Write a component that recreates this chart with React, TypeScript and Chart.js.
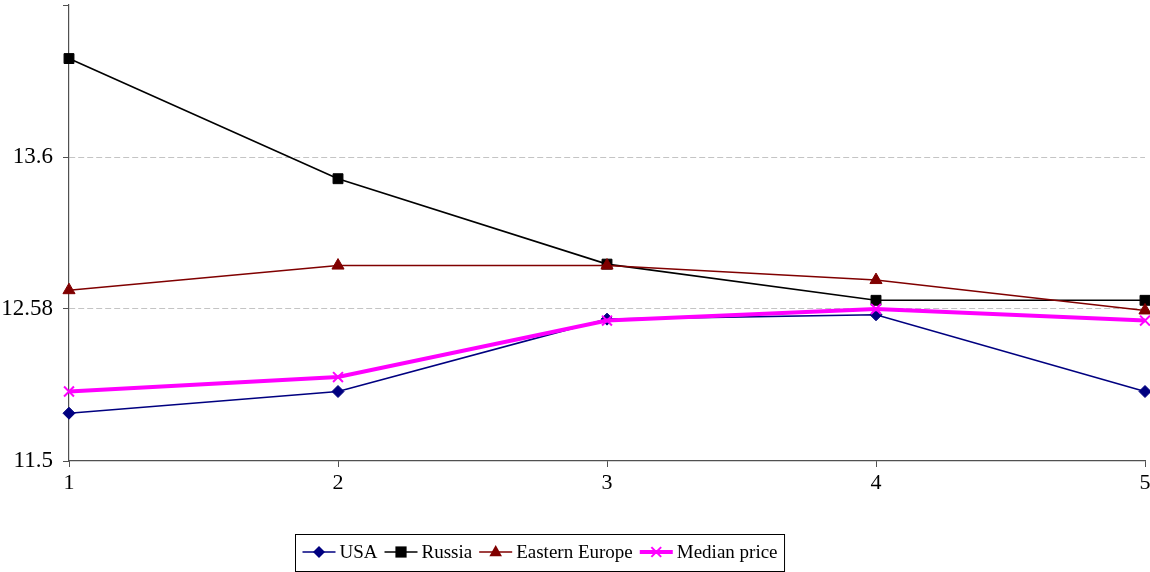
import React, { useEffect, useRef } from "react";
import { Chart, registerables } from "chart.js";

Chart.register(...registerables);

const categories = ["1", "2", "3", "4", "5"];
const yTickLabels = ["11.5", "12.58", "13.6", ""];
const yMin = 11.5;
const yStep = 1.05;

const usa = [11.83, 11.98, 12.48, 12.51, 11.98];
const russia = [14.28, 13.45, 12.86, 12.61, 12.61];
const easternEurope = [12.68, 12.85, 12.85, 12.75, 12.54];
const medianPrice = [11.98, 12.08, 12.47, 12.55, 12.47];

const seriesNames = ["USA", "Russia", "Eastern Europe", "Median price"];
const SERIF = "'Liberation Serif', 'Times New Roman', serif";

function drawMarker(
  ctx: CanvasRenderingContext2D,
  style: string,
  x: number,
  y: number,
  r: number,
  fill: string,
  stroke: string,
  bw: number
) {
  ctx.save();
  ctx.fillStyle = fill;
  ctx.strokeStyle = stroke;
  ctx.lineWidth = bw;
  ctx.beginPath();
  if (style === "rectRot") {
    ctx.moveTo(x, y - r);
    ctx.lineTo(x + r, y);
    ctx.lineTo(x, y + r);
    ctx.lineTo(x - r, y);
    ctx.closePath();
    ctx.fill();
  } else if (style === "rect") {
    const k = r * 0.8;
    ctx.rect(x - k, y - k, k * 2, k * 2);
    ctx.fill();
  } else if (style === "triangle") {
    ctx.moveTo(x, y - r);
    ctx.lineTo(x + r * 0.9, y + r * 0.6);
    ctx.lineTo(x - r * 0.9, y + r * 0.6);
    ctx.closePath();
    ctx.fill();
  } else if (style === "crossRot") {
    const k = r * 0.7;
    ctx.moveTo(x - k, y - k);
    ctx.lineTo(x + k, y + k);
    ctx.moveTo(x + k, y - k);
    ctx.lineTo(x - k, y + k);
    ctx.stroke();
  }
  ctx.restore();
}

const legendPlugin = {
  id: "excelLegend",
  afterDraw(chart: any) {
    const ctx = chart.ctx as CanvasRenderingContext2D;
    const sets = chart.data.datasets as any[];
    ctx.save();
    ctx.font = `19px ${SERIF}`;
    const lineLen = 33;
    const gapBefore = 7;
    const gapAfter = 4;
    const widths = sets.map((d) => gapBefore + lineLen + gapAfter + ctx.measureText(d.label).width);
    const total = widths.reduce((a, b) => a + b, 0) + 7;
    const cx = 540;
    const cy = chart.height - 20;
    const h = 37;
    const x0 = Math.round(cx - total / 2) + 0.5;
    const y0 = Math.round(cy - h / 2) + 0.5;
    ctx.fillStyle = "#ffffff";
    ctx.fillRect(x0, y0, total, h);
    ctx.strokeStyle = "#000000";
    ctx.lineWidth = 1;
    ctx.strokeRect(x0, y0, total, h);
    let x = x0;
    sets.forEach((d, i) => {
      const ls = x + gapBefore;
      ctx.strokeStyle = d.borderColor;
      ctx.lineWidth = d.borderWidth;
      ctx.beginPath();
      ctx.moveTo(ls, cy);
      ctx.lineTo(ls + lineLen, cy);
      ctx.stroke();
      drawMarker(ctx, d.pointStyle, ls + lineLen / 2, cy, d.pointRadius, d.pointBackgroundColor, d.pointBorderColor, d.pointBorderWidth);
      ctx.fillStyle = "#000000";
      ctx.textBaseline = "middle";
      ctx.textAlign = "left";
      ctx.fillText(d.label, ls + lineLen + gapAfter, cy + 1);
      x += widths[i];
    });
    ctx.restore();
  },
};

export default function App() {
  const ref = useRef<HTMLCanvasElement | null>(null);

  useEffect(() => {
    if (!ref.current) return;
    const colors = ["#000080", "#000000", "#800000", "#FF00FF"];
    const styles = ["rectRot", "rect", "triangle", "crossRot"];
    const radii = [6, 7, 7, 7];
    const widths = [1.6, 1.6, 1.6, 4];
    const values = [usa, russia, easternEurope, medianPrice];
    const chart = new Chart(ref.current, {
      type: "line",
      data: {
        labels: categories,
        datasets: values.map((v, i) => ({
          label: seriesNames[i],
          data: v,
          borderColor: colors[i],
          backgroundColor: colors[i],
          borderWidth: widths[i],
          pointStyle: styles[i],
          pointRadius: radii[i],
          pointHoverRadius: radii[i],
          pointBackgroundColor: colors[i],
          pointBorderColor: colors[i],
          pointBorderWidth: i === 3 ? 2 : 1,
          tension: 0,
          fill: false,
          clip: false,
          order: 4 - i,
        })),
      },
      options: {
        animation: false,
        responsive: true,
        maintainAspectRatio: false,
        events: [],
        layout: { autoPadding: false, padding: { top: 5, right: 5, left: 0, bottom: 0 } },
        plugins: {
          legend: { display: false },
          tooltip: { enabled: false },
        },
        scales: {
          x: {
            type: "category",
            offset: false,
            afterFit: (s: any) => {
              s.height = 111;
              s.paddingLeft = 0;
              s.paddingRight = 0;
            },
            border: { display: true, color: "#505050", width: 1.2 },
            grid: {
              drawOnChartArea: false,
              drawTicks: true,
              tickLength: 6,
              tickColor: "#505050",
            },
            ticks: {
              color: "#000",
              padding: 3,
              maxRotation: 0,
              font: { family: SERIF, size: 22 },
            },
          },
          y: {
            type: "linear",
            min: yMin,
            max: yMin + yStep * (yTickLabels.length - 1),
            afterFit: (s: any) => {
              s.width = 69;
              s.paddingTop = 0;
              s.paddingBottom = 0;
            },
            afterBuildTicks: (s: any) => {
              s.ticks = yTickLabels.map((_, i) => ({ value: yMin + yStep * i }));
            },
            border: { display: true, color: "#505050", width: 1.2, dash: [6, 3] },
            grid: {
              drawTicks: true,
              tickLength: 6,
              tickColor: "#505050",
              tickBorderDash: [],
              lineWidth: 1,
              color: (c: any) =>
                c.index > 0 && c.index < yTickLabels.length - 1 ? "#c4c4c4" : "rgba(0,0,0,0)",
            },
            ticks: {
              color: "#000",
              padding: 10,
              font: { family: SERIF, size: 23 },
              callback: (_v: any, i: number) => yTickLabels[i],
            },
          },
        },
      },
      plugins: [legendPlugin],
    } as any);
    return () => chart.destroy();
  }, []);

  return (
    <div style={{ position: "fixed", left: 0, top: 0, width: 1150, height: 572, background: "#fff" }}>
      <canvas ref={ref} />
    </div>
  );
}
